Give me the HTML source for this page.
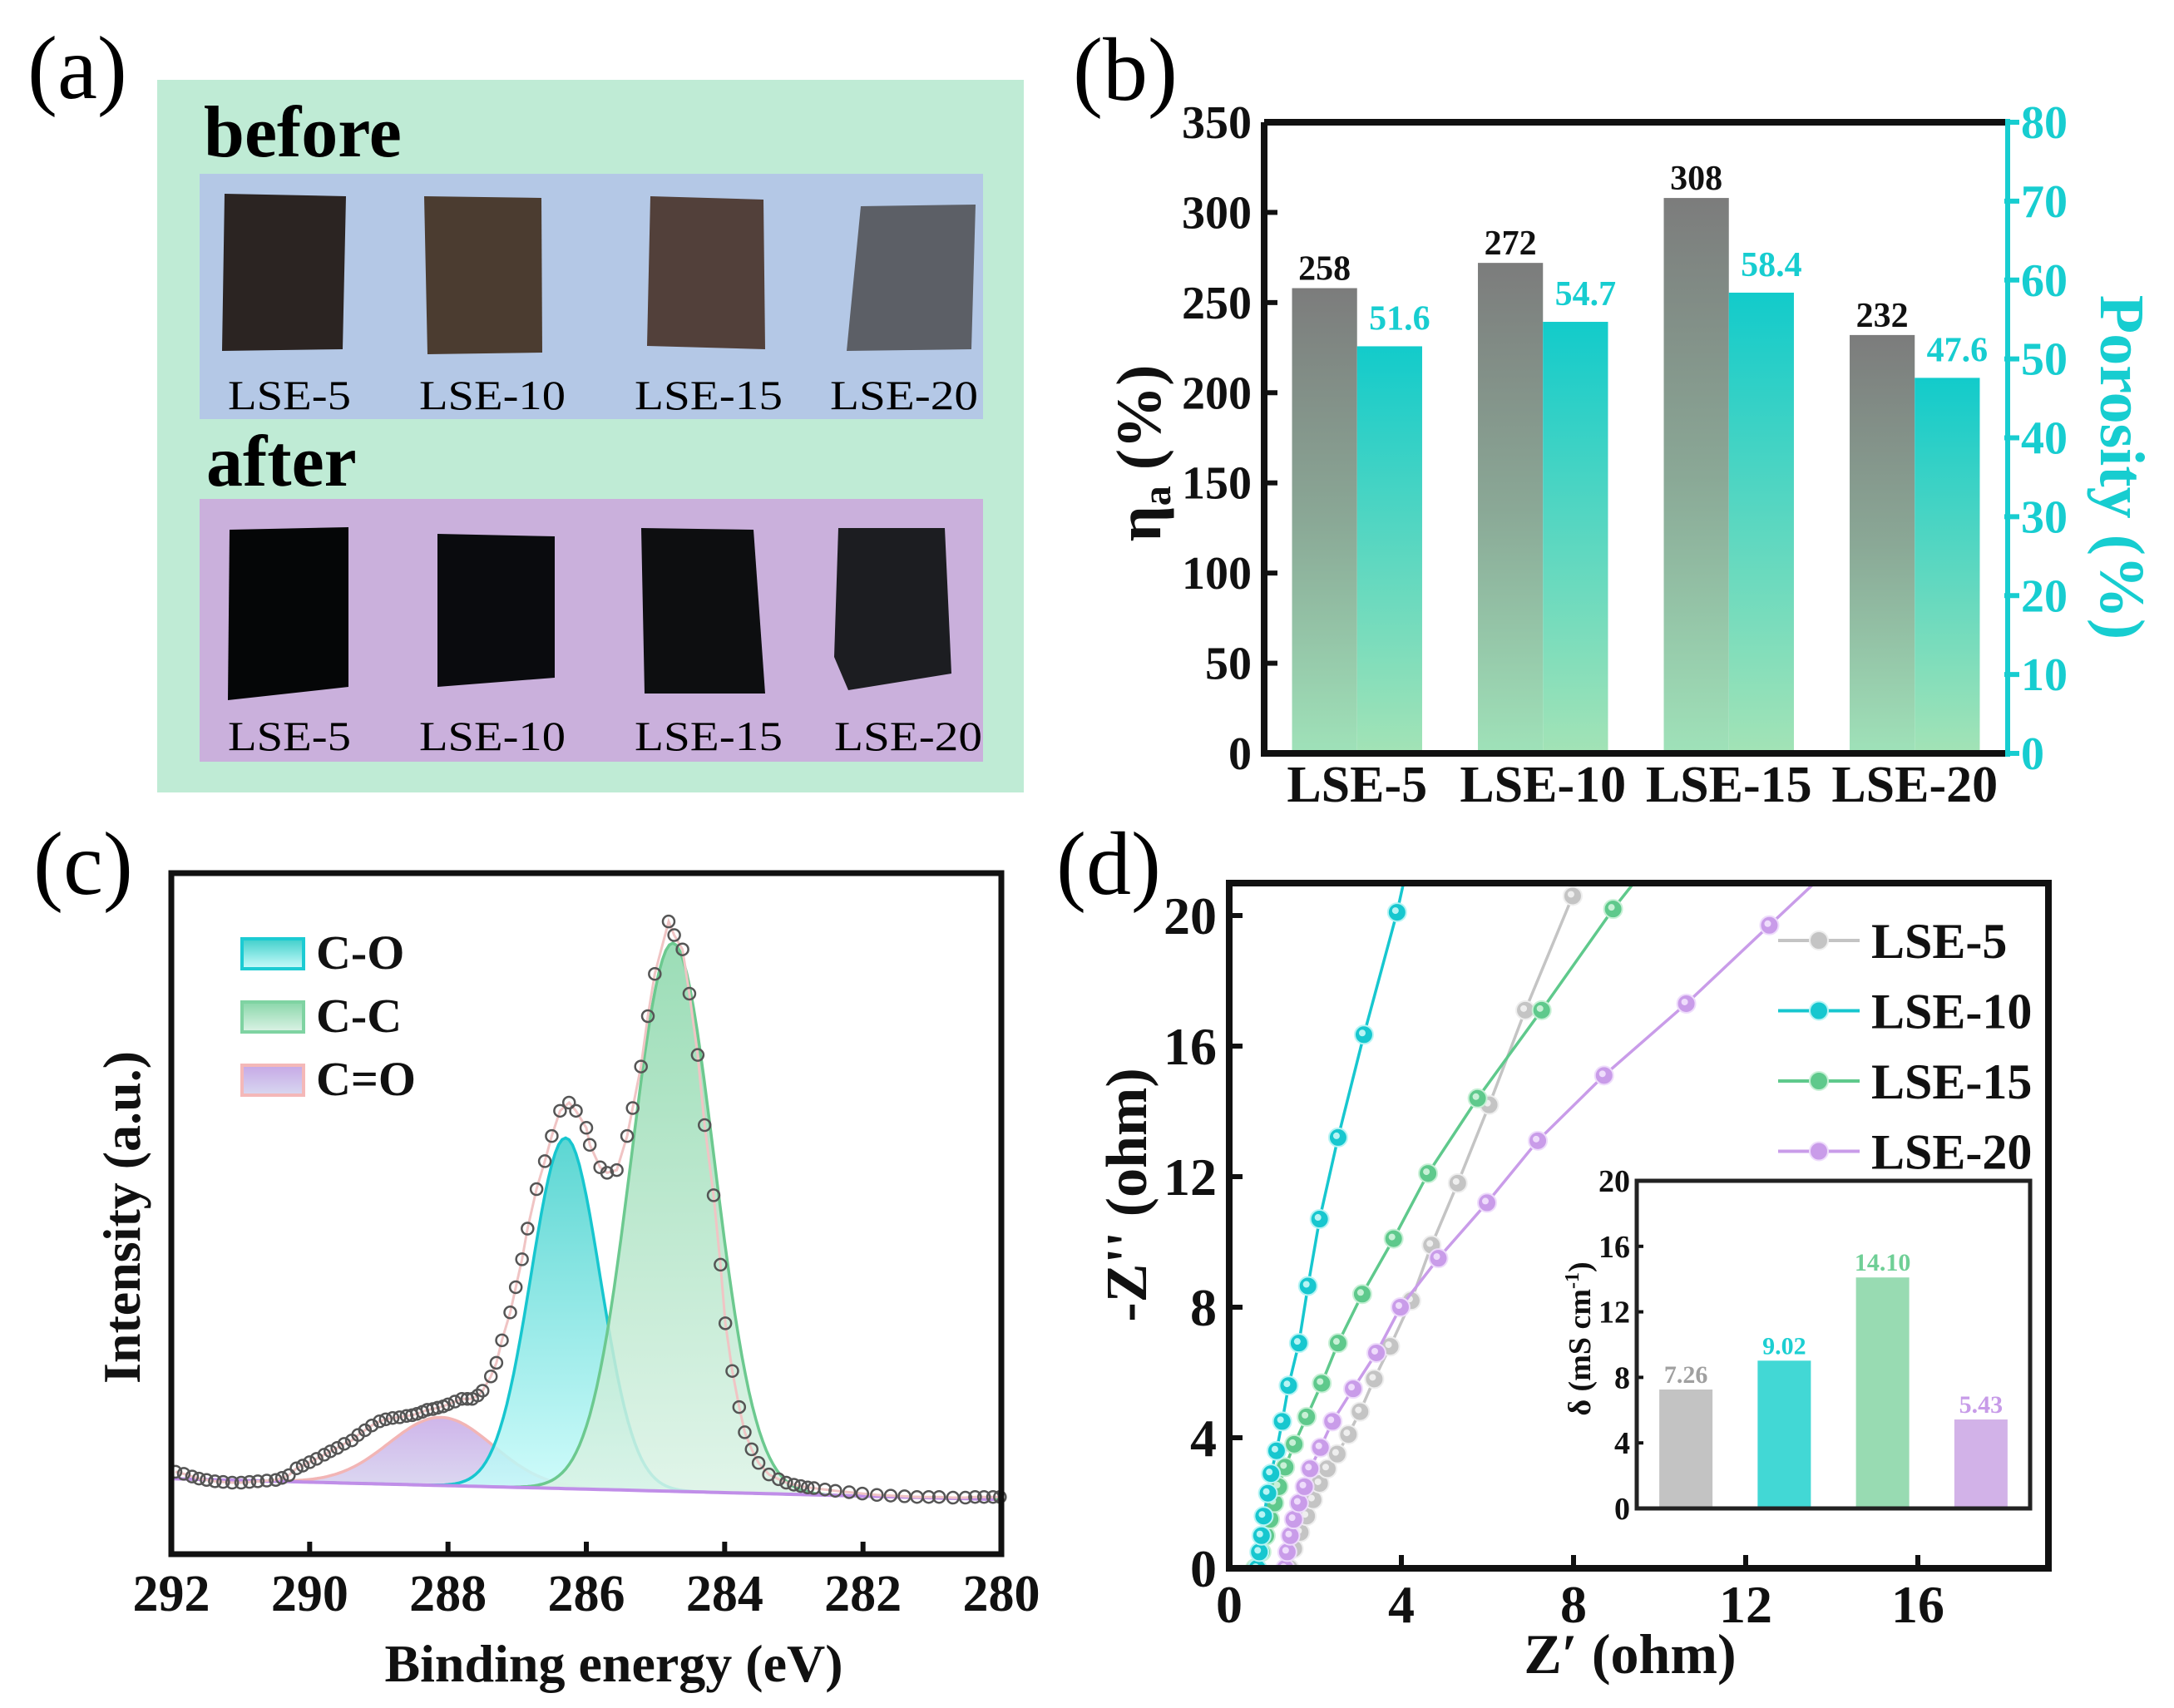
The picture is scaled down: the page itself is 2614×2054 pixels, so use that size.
<!DOCTYPE html>
<html><head><meta charset="utf-8">
<style>
html,body{margin:0;padding:0;background:#fff;}
svg{display:block;font-family:"Liberation Serif",serif;}
</style></head>
<body>
<svg id="fig" xmlns="http://www.w3.org/2000/svg" width="2614" height="2054" viewBox="0 0 2614 2054">
<defs>
  <linearGradient id="gGray" x1="0" y1="0" x2="0" y2="1"><stop offset="0" stop-color="#7c7c7c"/><stop offset="0.5" stop-color="#8aa896"/><stop offset="1" stop-color="#9fe2b9"/></linearGradient>
  <linearGradient id="gCyan" x1="0" y1="0" x2="0" y2="1"><stop offset="0" stop-color="#12cbcb"/><stop offset="1" stop-color="#a3e3b6"/></linearGradient>
  <linearGradient id="gCO" x1="0" y1="0" x2="0" y2="1"><stop offset="0" stop-color="#3fcfcb"/><stop offset="1" stop-color="#cafcfb"/></linearGradient>
  <linearGradient id="gCC" x1="0" y1="0" x2="0" y2="1"><stop offset="0" stop-color="#8ad7aa"/><stop offset="1" stop-color="#dcf3e6"/></linearGradient>
  <linearGradient id="gCdO" x1="0" y1="0" x2="0" y2="1"><stop offset="0" stop-color="#c6a8e6"/><stop offset="1" stop-color="#d8d8f0"/></linearGradient>
</defs>

<!-- Panel (a) -->
<g>
  <text x="33" y="118" font-size="108">(a)</text>
  <rect x="189" y="96" width="1042" height="857" fill="#bfebd5"/>
  <text x="245" y="188" font-size="88" font-weight="bold">before</text>
  <rect x="240" y="209" width="942" height="295" fill="#b4c8e6"/>
  <polygon points="270,233 416,236 412,420 267,422" fill="#2b2422"/>
  <polygon points="510,236 651,238 652,424 514,426" fill="#4b3c30"/>
  <polygon points="782,236 918,240 920,420 778,416" fill="#52403a"/>
  <polygon points="1035,248 1173,246 1168,420 1018,422" fill="#5c5f66"/>
  <text font-size="50" y="492">
    <tspan x="274" textLength="148" lengthAdjust="spacingAndGlyphs">LSE-5</tspan><tspan x="504" textLength="176" lengthAdjust="spacingAndGlyphs">LSE-10</tspan><tspan x="763" textLength="178" lengthAdjust="spacingAndGlyphs">LSE-15</tspan><tspan x="998" textLength="178" lengthAdjust="spacingAndGlyphs">LSE-20</tspan>
  </text>
  <text x="248" y="584" font-size="88" font-weight="bold">after</text>
  <rect x="240" y="600" width="942" height="316" fill="#cab0dc"/>
  <polygon points="276,637 419,634 419,826 274,842" fill="#050607"/>
  <polygon points="526,642 667,645 667,815 526,826" fill="#0a0b0e"/>
  <polygon points="771,635 906,637 920,834 775,834" fill="#0d0e10"/>
  <polygon points="1008,635 1136,635 1144,810 1020,830 1003,790" fill="#1c1d21"/>
  <text font-size="50" y="902">
    <tspan x="274" textLength="148" lengthAdjust="spacingAndGlyphs">LSE-5</tspan><tspan x="504" textLength="176" lengthAdjust="spacingAndGlyphs">LSE-10</tspan><tspan x="763" textLength="178" lengthAdjust="spacingAndGlyphs">LSE-15</tspan><tspan x="1003" textLength="178" lengthAdjust="spacingAndGlyphs">LSE-20</tspan>
  </text>
</g>

<g id="pb">
  <text x="1290" y="120" font-size="108">(b)</text>
</g>
<g id="pc">
  <text x="40" y="1075" font-size="108">(c)</text>
</g>
<g id="pd">
  <text x="1270" y="1075" font-size="108">(d)</text>
</g>
</svg>

<script>
// ===== Panel (b) data =====
const bCategories = ["LSE-5", "LSE-10", "LSE-15", "LSE-20"];
const bAbsorption = [258, 272, 308, 232];
const bPorosity = [51.6, 54.7, 58.4, 47.6];
const bLeftTicks = [0, 50, 100, 150, 200, 250, 300, 350];
const bRightTicks = [0, 10, 20, 30, 40, 50, 60, 70, 80];

// ===== Panel (c) data =====
const cXTicks = [292, 290, 288, 286, 284, 282, 280];
const cPeakNames = ["C-O", "C-C", "C=O"];
const cPeakCenters = [286.3, 284.75, 288.1];
const cPeakAmps = [51.5, 80.5, 10.0];
const cPeakSigmas = [0.5, 0.6, 0.75];
const cBaseline = [10.7, 8.4]; // at 290.5 and 281.5 eV
const cDataE = [291.94,291.82,291.7,291.6,291.49,291.37,291.25,291.12,290.99,290.87,290.75,290.62,290.49,290.4,290.3,290.19,290.1,290.0,289.9,289.79,289.7,289.6,289.5,289.39,289.3,289.2,289.1,288.99,288.9,288.8,288.7,288.6,288.52,288.45,288.37,288.3,288.22,288.15,288.07,288.0,287.9,287.8,287.72,287.65,287.57,287.5,287.38,287.3,287.22,287.1,287.02,286.93,286.85,286.72,286.6,286.5,286.38,286.25,286.15,286.0,285.95,285.8,285.7,285.56,285.41,285.33,285.21,285.11,285.01,284.81,284.73,284.61,284.51,284.39,284.29,284.16,284.06,283.99,283.89,283.79,283.71,283.61,283.51,283.36,283.22,283.11,283.0,282.9,282.8,282.71,282.55,282.4,282.2,282.01,281.8,281.6,281.4,281.22,281.05,280.9,280.7,280.52,280.38,280.25,280.12,280.02];
const cDataI = [12.1,11.8,11.4,11.1,10.9,10.7,10.6,10.5,10.5,10.6,10.7,10.8,10.9,11.2,11.6,12.6,13.0,13.5,14.0,14.6,15.1,15.6,16.2,16.7,17.5,18.2,18.9,19.5,19.8,20.0,20.1,20.3,20.4,20.6,20.9,21.2,21.3,21.5,21.7,22.0,22.4,22.8,22.8,22.8,23.3,24.0,26.1,28.1,31.4,35.5,39.2,43.3,47.8,53.6,57.7,61.4,65.1,66.3,65.1,62.6,60.1,56.8,56.0,56.4,61.4,65.5,71.6,79.0,85.2,92.9,90.9,88.8,82.3,73.3,63.0,52.7,42.5,33.9,26.9,21.6,17.9,15.4,13.4,11.7,11.0,10.5,10.2,10.0,9.8,9.7,9.5,9.3,9.1,8.9,8.7,8.6,8.5,8.4,8.4,8.4,8.3,8.3,8.4,8.4,8.4,8.4];

// ===== Panel (d) data =====
const dSeriesNames = ["LSE-5", "LSE-10", "LSE-15", "LSE-20"];
const dLse5X = [1.4,1.5,1.65,1.8,1.95,2.1,2.28,2.51,2.77,3.04,3.37,3.74,4.23,4.7,5.31,6.04,6.88,7.98];
const dLse5Y = [0,0.6,1.1,1.6,2.1,2.6,3.05,3.5,4.1,4.8,5.8,6.8,8.2,9.9,11.8,14.2,17.1,20.6];
const dLse10X = [0.65,0.7,0.75,0.8,0.9,0.97,1.1,1.23,1.38,1.62,1.83,2.1,2.53,3.13,3.9,4.05];
const dLse10Y = [0,0.5,1.0,1.6,2.3,2.9,3.6,4.5,5.6,6.9,8.65,10.7,13.2,16.35,20.1,21];
const dLse15X = [0.6,0.75,0.85,0.95,1.05,1.15,1.3,1.51,1.8,2.15,2.53,3.09,3.82,4.62,5.77,7.26,8.92,9.4];
const dLse15Y = [0,0.5,1.0,1.5,2.0,2.5,3.1,3.8,4.64,5.67,6.9,8.4,10.1,12.1,14.4,17.1,20.2,21];
const dLse20X = [1.3,1.35,1.42,1.5,1.62,1.75,1.88,2.12,2.4,2.88,3.42,3.98,4.86,5.99,7.17,8.71,10.62,12.55,13.6];
const dLse20Y = [0,0.5,1.0,1.5,2.0,2.5,3.05,3.7,4.5,5.5,6.6,8.0,9.5,11.2,13.1,15.1,17.3,19.7,21];
const dXTicks = [0, 4, 8, 12, 16];
const dYTicks = [0, 4, 8, 12, 16, 20];
const dInsetValues = [7.26, 9.02, 14.10, 5.43];
const dInsetLabels = ["7.26", "9.02", "14.10", "5.43"];
const dInsetTicks = [0, 4, 8, 12, 16, 20];

const NS = "http://www.w3.org/2000/svg";
function mk(parent, tag, attrs, text) {
  const e = document.createElementNS(NS, tag);
  for (const k in attrs) e.setAttribute(k, attrs[k]);
  if (text !== undefined) e.textContent = text;
  parent.appendChild(e);
  return e;
}

// ---------- Panel (b) ----------
(function () {
  const g = document.getElementById("pb");
  const L = 1520, R = 2414, T = 147, B = 906;
  const yL = v => B - v / 350 * (B - T);
  const yR = v => B - v / 80 * (B - T);
  const band = (R - L) / bCategories.length;
  const cx = i => L + band * (i + 0.5);
  const bw = band * 0.35;
  bCategories.forEach((c, i) => {
    let r = mk(g, "rect", { x: cx(i) - bw, y: yL(bAbsorption[i]), width: bw, height: B - yL(bAbsorption[i]), fill: "url(#gGray)" });
    
    
    let t = mk(g, "text", { x: cx(i) - bw / 2, y: yL(bAbsorption[i]) - 10, "font-size": 42, "font-weight": "bold", "text-anchor": "middle", fill: "#111" }, String(bAbsorption[i]));
    
    
    let r2 = mk(g, "rect", { x: cx(i), y: yR(bPorosity[i]), width: bw, height: B - yR(bPorosity[i]), fill: "url(#gCyan)" });
    
    
    let t2 = mk(g, "text", { x: cx(i) + bw / 2 + 12, y: yR(bPorosity[i]) - 20, "font-size": 42, "font-weight": "bold", "text-anchor": "middle", fill: "#17cdd0" }, bPorosity[i].toFixed(1));
    
    
    let xl = mk(g, "text", { x: cx(i), y: 964, "font-size": 62, "font-weight": "bold", "text-anchor": "middle", fill: "#111" }, c);
    
    
  });
  bLeftTicks.forEach(v => {
    let tk = mk(g, "line", { x1: L, x2: L + 16, y1: yL(v), y2: yL(v), stroke: "#111", "stroke-width": 6 });
    
    
    let tl = mk(g, "text", { x: 1505, y: yL(v) + 19, "font-size": 56, "font-weight": "bold", "text-anchor": "end", fill: "#111" }, String(v));
    
    
  });
  bRightTicks.forEach(v => {
    let tk = mk(g, "line", { x1: R - 4, x2: R + 14, y1: yR(v), y2: yR(v), stroke: "#17cdd0", "stroke-width": 6 });
    
    
    let tl = mk(g, "text", { x: 2430, y: yR(v) + 19, "font-size": 56, "font-weight": "bold", fill: "#17cdd0" }, String(v));
    
    
  });
  let ax = mk(g, "path", { d: `M${L},${T} H${R} M${L},${T} V${B} H${R}`, stroke: "#111", "stroke-width": 8, fill: "none" });
  
  
  let ra = mk(g, "line", { x1: R, x2: R, y1: T - 4, y2: B + 4, stroke: "#17cdd0", "stroke-width": 6 });
  
  
  let yt = mk(g, "text", { transform: "translate(1395,545) rotate(-90)", "font-size": 76, "font-weight": "bold", "text-anchor": "middle", fill: "#111" });
  yt.innerHTML = 'η<tspan font-size="48" dy="12">a</tspan><tspan dy="-12"> (%)</tspan>';
  
  
  let yr = mk(g, "text", { transform: "translate(2526,562) rotate(90)", "font-size": 76, "font-weight": "bold", "text-anchor": "middle", fill: "#17cdd0" }, "Porosity  (%)");
  
  
})();

// ---------- Panel (c) ----------
(function () {
  const g = document.getElementById("pc");
  const L = 206, R = 1204, T = 1050, B = 1869;
  const x = e => L + (292 - e) / 12 * (R - L);
  const y = v => B - v / 100 * (B - T);
  const base = e => cBaseline[1] + (e - 281.5) * (cBaseline[0] - cBaseline[1]) / 9;
  const gauss = (e, k) => cPeakAmps[k] * Math.exp(-Math.pow(e - cPeakCenters[k], 2) / (2 * cPeakSigmas[k] * cPeakSigmas[k]));
  const fills = ["url(#gCO)", "url(#gCC)", "url(#gCdO)"];
  const strokes = ["#17c6cf", "#6cc98f", "#f2b5b5"];
  const order = [2, 0, 1];
  order.forEach(k => {
    let top = "", bot = "";
    for (let e = 292; e >= 280; e -= 0.05) top += (top ? " L" : "M") + x(e).toFixed(1) + "," + y(base(e) + gauss(e, k)).toFixed(1);
    for (let e = 280; e <= 292.001; e += 0.05) bot += " L" + x(e).toFixed(1) + "," + y(base(e)).toFixed(1);
    let p = mk(g, "path", { d: top + bot + " Z", fill: fills[k], "fill-opacity": 0.85, stroke: "none" });
    
    
    let l = mk(g, "path", { d: top, fill: "none", stroke: strokes[k], "stroke-width": 3.5 });
    
    
  });
  let bl = "";
  for (let e = 292; e >= 280; e -= 0.1) bl += (bl ? " L" : "M") + x(e).toFixed(1) + "," + y(base(e)).toFixed(1);
  let blp = mk(g, "path", { d: bl, fill: "none", stroke: "#c08ee8", "stroke-width": 4 });
  
  
  let env = "";
  cDataE.forEach((e, i) => env += (i ? " L" : "M") + x(e).toFixed(1) + "," + y(cDataI[i]).toFixed(1));
  let envp = mk(g, "path", { d: env, fill: "none", stroke: "#f0c4c4", "stroke-width": 3 });
  
  
  cDataE.forEach((e, i) => {
    let c = mk(g, "circle", { cx: x(e), cy: y(cDataI[i]), r: 7, fill: "none", stroke: "#555", "stroke-width": 2.5 });
    
    
  });
  let fr = mk(g, "rect", { x: L, y: T, width: R - L, height: B - T, fill: "none", stroke: "#111", "stroke-width": 7 });
  
  
  cXTicks.forEach(v => {
    let tk = mk(g, "line", { x1: x(v), x2: x(v), y1: B, y2: B - 15, stroke: "#111", "stroke-width": 6 });
    
    
    let tl = mk(g, "text", { x: x(v), y: 1937, "font-size": 62, "font-weight": "bold", "text-anchor": "middle", fill: "#111" }, String(v));
    
    
  });
  let xt = mk(g, "text", { x: 738, y: 2022, "font-size": 64, "font-weight": "bold", "text-anchor": "middle", fill: "#111" }, "Binding energy  (eV)");
  
  
  let ytt = mk(g, "text", { transform: "translate(168,1464) rotate(-90)", "font-size": 64, "font-weight": "bold", "text-anchor": "middle", fill: "#111" }, "Intensity (a.u.)");
  
  
  const legStroke = ["#1ccbd3", "#7fd3a2", "#f4b8b8"];
  cPeakNames.forEach((n, k) => {
    const yy = 1129 + k * 76;
    let r = mk(g, "rect", { x: 291, y: yy, width: 74, height: 36, fill: fills[k], stroke: legStroke[k], "stroke-width": 4 });
    
    
    let t = mk(g, "text", { x: 380, y: yy + 36, "font-size": 58, "font-weight": "bold", fill: "#111" }, n);
    
    
  });
})();

// ---------- Panel (d) ----------
(function () {
  const g = document.getElementById("pd");
  const L = 1478, R = 2463, T = 1062, B = 1886;
  const x = v => L + v * 51.75;
  const y = v => B - v * 39.25;
  const colors = ["#c4c4c4", "#17c7cf", "#5fc98c", "#c99ce9"];
  const light = ["#eeeeee", "#b8f4f4", "#c8f0d6", "#eedcfb"];
  const xs = [dLse5X, dLse10X, dLse15X, dLse20X];
  const ys = [dLse5Y, dLse10Y, dLse15Y, dLse20Y];
  const clip = mk(g.ownerSVGElement.querySelector("defs"), "clipPath", { id: "dclip" });
  mk(clip, "rect", { x: L, y: T, width: R - L, height: B - T });
  const plot = mk(g, "g", { "clip-path": "url(#dclip)" });
  
  
  [0, 2, 3, 1].forEach(s => {
    let d = "";
    xs[s].forEach((v, i) => d += (i ? " L" : "M") + x(v).toFixed(1) + "," + y(ys[s][i]).toFixed(1));
    let p = mk(plot, "path", { d: d, fill: "none", stroke: colors[s], "stroke-width": 3.5 });
    
    
    xs[s].forEach((v, i) => {
      if (ys[s][i] > 20.8) return;
      let c = mk(plot, "circle", { cx: x(v), cy: y(ys[s][i]), r: 11, fill: colors[s], stroke: light[s], "stroke-width": 2 });
      
      
      mk(plot, "circle", { cx: x(v) - 2, cy: y(ys[s][i]) - 2, r: 4, fill: light[s] });
    });
  });
  let fr = mk(g, "rect", { x: L, y: T, width: R - L, height: B - T, fill: "none", stroke: "#111", "stroke-width": 8 });
  
  
  dXTicks.forEach(v => {
    let tk = mk(g, "line", { x1: x(v), x2: x(v), y1: B, y2: B - 16, stroke: "#111", "stroke-width": 6 });
    
    
    let tl = mk(g, "text", { x: x(v), y: 1951, "font-size": 64, "font-weight": "bold", "text-anchor": "middle", fill: "#111" }, String(v));
    
    
  });
  dYTicks.forEach(v => {
    let tk = mk(g, "line", { x1: L, x2: L + 16, y1: y(v), y2: y(v), stroke: "#111", "stroke-width": 6 });
    
    
    let tl = mk(g, "text", { x: 1463, y: y(v) + 22, "font-size": 64, "font-weight": "bold", "text-anchor": "end", fill: "#111" }, String(v));
    
    
  });
  let xt = mk(g, "text", { x: 1960, y: 2012, "font-size": 68, "font-weight": "bold", "text-anchor": "middle", fill: "#111" }, "Z′ (ohm)");
  
  
  let yt = mk(g, "text", { transform: "translate(1378,1437) rotate(-90)", "font-size": 70, "font-weight": "bold", "text-anchor": "middle", fill: "#111" }, "-Z'' (ohm)");
  
  
  dSeriesNames.forEach((n, s) => {
    const yy = 1131 + s * 84.5;
    let ln = mk(g, "line", { x1: 2138, x2: 2236, y1: yy, y2: yy, stroke: colors[s], "stroke-width": 4 });
    
    
    let c = mk(g, "circle", { cx: 2187, cy: yy, r: 11, fill: colors[s], stroke: light[s], "stroke-width": 2 });
    
    
    let t = mk(g, "text", { x: 2250, y: yy + 21, "font-size": 60, "font-weight": "bold", fill: "#111" }, n);
    
    
  });
  // inset
  const iL = 1968, iR = 2441, iT = 1420, iB = 1814;
  const iy = v => iB - v / 20 * (iB - iT);
  const ib = (iR - iL) / dInsetValues.length;
  const insetFill = ["#c3c3c3", "#42d8d5", "#98dbb2", "#d2b2e8"];
  const insetText = ["#a0a0a0", "#1ccfd2", "#6fcf96", "#c79be8"];
  let ibg = mk(g, "rect", { x: iL, y: iT, width: iR - iL, height: iB - iT, fill: "#fff" });
  
  
  dInsetValues.forEach((v, i) => {
    const c = iL + ib * (i + 0.5);
    let r = mk(g, "rect", { x: c - 32, y: iy(v), width: 64, height: iB - iy(v), fill: insetFill[i] });
    
    
    let t = mk(g, "text", { x: c, y: iy(v) - 8, "font-size": 30, "font-weight": "bold", "text-anchor": "middle", fill: insetText[i] }, dInsetLabels[i]);
    
    
  });
  dInsetTicks.forEach(v => {
    let tk = mk(g, "line", { x1: iL, x2: iL + 8, y1: iy(v), y2: iy(v), stroke: "#111", "stroke-width": 4 });
    
    
    let tl = mk(g, "text", { x: 1960, y: iy(v) + 13, "font-size": 38, "font-weight": "bold", "text-anchor": "end", fill: "#111" }, String(v));
    
    
  });
  let ifr = mk(g, "rect", { x: iL, y: iT, width: iR - iL, height: iB - iT, fill: "none", stroke: "#222", "stroke-width": 5 });
  
  
  let iyt = mk(g, "text", { transform: "translate(1912,1610) rotate(-90)", "font-size": 38, "font-weight": "bold", "text-anchor": "middle", fill: "#111" });
  iyt.innerHTML = 'δ (mS cm<tspan font-size="24" dy="-14">-1</tspan><tspan dy="14">)</tspan>';
  
  
})();
</script>
</body></html>
